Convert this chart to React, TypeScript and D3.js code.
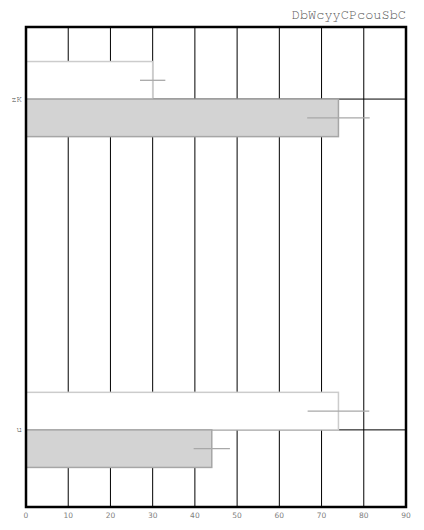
import React from 'react';
import { scaleLinear, scaleBand, range } from 'd3';

const title = 'DbWcyyCPcouSbC';
const categories = ['zK', 'u'];
const seriesA = [30, 74];
const seriesAErr = [3, 7.3];
const seriesB = [74, 44];
const seriesBErr = [7.4, 4.3];
const xTicks = range(0, 100, 10);

const width = 424;
const height = 530;
const margin = { top: 27, right: 18, bottom: 23, left: 26 };
const monoFont = "'Nimbus Mono PS', 'Nimbus Mono L', FreeMono, 'Courier New', Courier, monospace";

const App = () => {
  const innerW = width - margin.left - margin.right;
  const innerH = height - margin.top - margin.bottom;

  const x = scaleLinear().domain([0, 90]).range([0, innerW]);
  const y = scaleBand()
    .domain(categories)
    .range([0, innerH])
    .paddingInner(0.773)
    .paddingOuter(0.112)
    .align(0.466);
  const bw = y.bandwidth();
  const half = bw / 2;

  const series = [
    { values: seriesA, errs: seriesAErr, fill: '#ffffff', stroke: '#cccccc', offset: 0 },
    { values: seriesB, errs: seriesBErr, fill: '#d3d3d3', stroke: '#a6a6a6', offset: half }
  ];

  return (
    <svg width={width} height={height} style={{ display: 'block', position: 'absolute', left: 0, top: 0 }}>
      <text x={margin.left + innerW} y={19} textAnchor="end" fontFamily={monoFont} fontSize={13.6} fill="#555">
        {title}
      </text>
      <g transform={`translate(${margin.left},${margin.top})`}>
        {/* grid */}
        {xTicks.map(t => (
          <line key={'gx' + t} x1={x(t)} x2={x(t)} y1={0} y2={innerH} stroke="#000" strokeWidth={1} />
        ))}
        {categories.map(c => (
          <line key={'gy' + c} x1={0} x2={innerW} y1={(y(c) ?? 0) + half} y2={(y(c) ?? 0) + half} stroke="#000" strokeWidth={1} />
        ))}
        {/* bars */}
        {series.map((s, si) =>
          categories.map((c, i) => (
            <rect
              key={`b${si}-${c}`}
              x={0}
              y={(y(c) ?? 0) + s.offset}
              width={x(s.values[i])}
              height={half}
              fill={s.fill}
              stroke={s.stroke}
              strokeWidth={1.5}
            />
          ))
        )}
        {/* error bars */}
        {series.map((s, si) =>
          categories.map((c, i) => {
            const cy = (y(c) ?? 0) + s.offset + half / 2;
            return (
              <line
                key={`e${si}-${c}`}
                x1={x(s.values[i] - s.errs[i])}
                x2={x(s.values[i] + s.errs[i])}
                y1={cy}
                y2={cy}
                stroke="#a8a8a8"
                strokeWidth={1.3}
              />
            );
          })
        )}
        {/* frame */}
        <rect x={0} y={0} width={innerW} height={innerH} fill="none" stroke="#000" strokeWidth={2.5} />
        {/* x tick labels */}
        {xTicks.map(t => (
          <text
            key={'tx' + t}
            x={x(t)}
            y={innerH + 11}
            textAnchor="middle"
            fontFamily="DejaVu Sans, sans-serif"
            fontSize={7.5}
            fill="#808080"
          >
            {t}
          </text>
        ))}
        {/* category labels */}
        {categories.map(c => (
          <text
            key={'ty' + c}
            x={-4}
            y={(y(c) ?? 0) + half + 2.5}
            textAnchor="end"
            fontFamily={monoFont}
            fontSize={9}
            fill="#444"
          >
            {c}
          </text>
        ))}
      </g>
    </svg>
  );
};

export default App;
